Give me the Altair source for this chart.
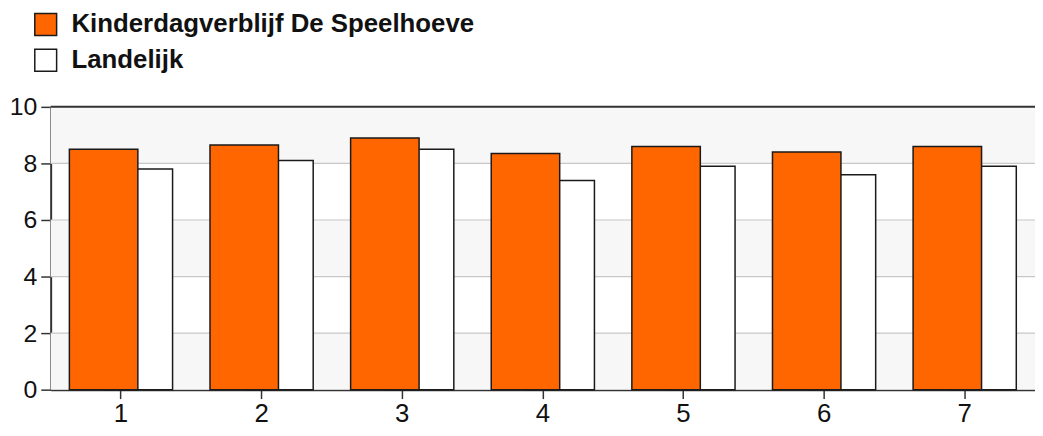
import altair as alt
import pandas as pd

categories = ["1", "2", "3", "4", "5", "6", "7"]
speelhoeve = [8.5, 8.65, 8.9, 8.35, 8.6, 8.4, 8.6]
landelijk = [7.8, 8.1, 8.5, 7.4, 7.9, 7.6, 7.9]
series_names = ["Kinderdagverblijf De Speelhoeve", "Landelijk"]
series_colors = ["#ff6600", "#ffffff"]
stripe_lo = [0, 4, 8]
stripe_hi = [2, 6, 10]
grid_values = [2, 4, 6, 8]
top_value = [10]
y_ticks = [0, 2, 4, 6, 8, 10]

AXIS_FONT = "Liberation Sans Narrow, Liberation Sans, Arial"
LEG_FONT = "Liberation Sans, Arial"
DARK = "#1a1a1a"

bars_df = pd.DataFrame({
    "cat": categories * 2,
    "value": speelhoeve + landelijk,
    "series": [series_names[0]] * len(categories) + [series_names[1]] * len(categories),
})
stripes_df = pd.DataFrame({"lo": stripe_lo, "hi": stripe_hi})
grid_df = pd.DataFrame({"v": grid_values})
top_df = pd.DataFrame({"v": top_value})

yscale = alt.Scale(domain=[0, 10], nice=False, zero=True)
xscale = alt.Scale(domain=categories, paddingInner=0, paddingOuter=0)

yaxis = alt.Axis(
    values=y_ticks, title=None, grid=False, domain=True, domainColor="#333333",
    domainWidth=2, tickSize=10, tickColor="#333333", tickWidth=1.5,
    labelFont=AXIS_FONT, labelFontSize=25, labelColor="#111111", labelPadding=4,
)
xaxis = alt.Axis(
    title=None, labelAngle=0, grid=False, domain=True, domainColor="#333333",
    domainWidth=2, tickSize=9, tickColor="#333333", tickWidth=1.5,
    labelFont=AXIS_FONT, labelFontSize=26, labelColor="#111111", labelPadding=2,
)

stripes = alt.Chart(stripes_df).mark_rect(fill="#f7f7f7").encode(
    y=alt.Y("lo:Q", scale=yscale, axis=yaxis),
    y2="hi:Q",
)
grid = alt.Chart(grid_df).mark_rule(color="#c8c8c8", strokeWidth=1.2).encode(
    y=alt.Y("v:Q", scale=yscale, axis=yaxis)
)
top = alt.Chart(top_df).mark_rule(color="#333333", strokeWidth=2).encode(
    y=alt.Y("v:Q", scale=yscale, axis=yaxis)
)

color = alt.Color(
    "series:N",
    scale=alt.Scale(domain=series_names, range=series_colors),
    legend=alt.Legend(
        title=None, orient="none", legendX=-18, legendY=-96, direction="vertical",
        symbolType="square", symbolSize=484, symbolStrokeColor=DARK,
        symbolStrokeWidth=1.5, symbolOpacity=1, labelFont=LEG_FONT,
        labelFontSize=26, labelFontWeight="bold", labelColor="#111111",
        labelLimit=800, labelOffset=13, rowPadding=8, padding=0,
    ),
)

base = alt.Chart(bars_df)
white_bars = base.transform_filter(alt.datum.series == series_names[1]).mark_bar(
    width=69, xOffset=17.5, stroke=DARK, strokeWidth=1.5, opacity=1
).encode(
    x=alt.X("cat:N", scale=xscale, axis=xaxis, sort=categories),
    y=alt.Y("value:Q", scale=yscale, axis=yaxis),
    color=color,
)
orange_bars = base.transform_filter(alt.datum.series == series_names[0]).mark_bar(
    width=69, xOffset=-17.5, stroke=DARK, strokeWidth=1.5, opacity=1
).encode(
    x=alt.X("cat:N", scale=xscale, axis=xaxis, sort=categories),
    y=alt.Y("value:Q", scale=yscale, axis=yaxis),
    color=color,
)

chart = alt.layer(stripes, grid, white_bars, orange_bars, top).properties(
    width=992, height=285,
    autosize=alt.AutoSizeParams(type="none"),
    padding={"left": 43, "top": 98, "right": 0, "bottom": 36},
).configure_view(stroke=None)

chart.save("out.html", embed_options={"renderer": "svg", "actions": False})
